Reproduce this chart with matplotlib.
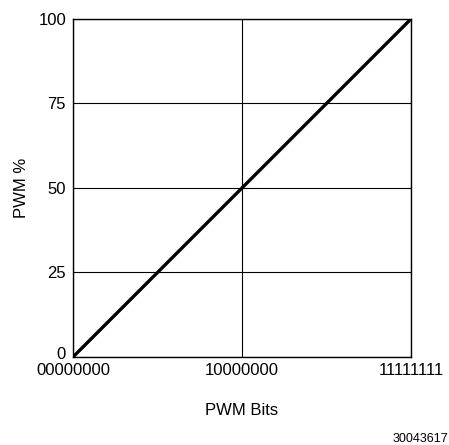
import matplotlib
matplotlib.use('Agg')
import matplotlib.pyplot as plt
import matplotlib.transforms as mtransforms

plt.rcParams['font.family'] = ['Liberation Sans', 'DejaVu Sans']

# 데이터
pwm_bits = [0, 255]
pwm_pct = [0, 100]
x_ticks = [0, 127.5, 255]
x_labels = ['00000000', '10000000', '11111111']
y_ticks = [0, 25, 50, 75, 100]

fig = plt.figure(figsize=(4.49, 4.45), dpi=100)
ax = fig.add_axes([0.1626, 0.1978, 0.7528, 0.7596])

ax.plot(pwm_bits, pwm_pct, color='black', linewidth=2.4, solid_capstyle='butt')

ax.set_xlim(0, 255)
ax.set_ylim(0, 100)
ax.set_xticks(x_ticks)
ax.set_xticklabels(x_labels, fontsize=12)
ax.set_yticks(y_ticks)
ax.set_yticklabels([str(v) for v in y_ticks], fontsize=12)
ax.tick_params(axis='x', length=0, pad=4)
ax.tick_params(axis='y', length=0, pad=5)
ax.grid(True, color='black', linewidth=0.8)
ax.set_axisbelow(True)
for s in ax.spines.values():
    s.set_linewidth(1.0)
    s.set_color('black')

# "0" 라벨을 살짝 위로 올려 x축 라벨과 겹치지 않게
zero_lbl = ax.get_yticklabels()[0]
zero_lbl.set_transform(zero_lbl.get_transform() +
                       mtransforms.ScaledTranslation(0, 3 / 72, fig.dpi_scale_trans))

ax.set_xlabel('PWM Bits', fontsize=12, labelpad=18)
ax.set_ylabel('PWM %', fontsize=12, labelpad=7)

fig.text(0.998, 0.0, '30043617', fontsize=9, ha='right', va='bottom')

plt.savefig('out.png', dpi=100)
plt.close()
